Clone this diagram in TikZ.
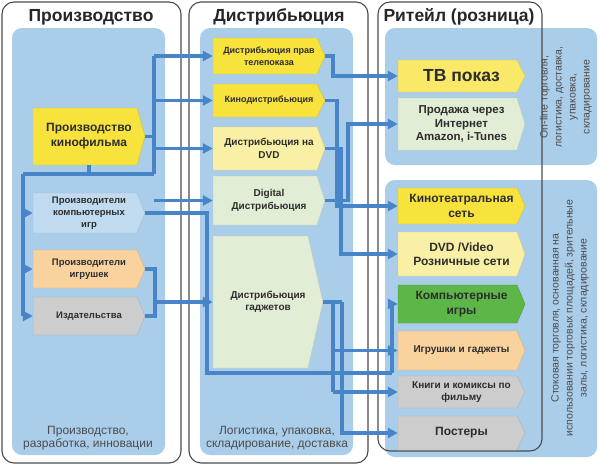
\documentclass[tikz,border=0pt]{standalone}
\usepackage{fontspec}
\setmainfont{Liberation Sans}
\usepackage{xcolor}
\usepackage{tikz}
\usetikzlibrary{arrows.meta}

\definecolor{panelblue}{RGB}{170,205,234}
\definecolor{linkblue}{RGB}{72,132,200}
\definecolor{framegray}{RGB}{75,75,75}
\definecolor{boxtext}{RGB}{45,45,45}
\definecolor{filmyellow}{RGB}{248,226,60}
\definecolor{tvyellow}{RGB}{250,232,105}
\definecolor{paleyellow}{RGB}{250,240,165}
\definecolor{palegreen}{RGB}{226,237,214}
\definecolor{gamegreen}{RGB}{92,183,72}
\definecolor{toyorange}{RGB}{250,210,158}
\definecolor{bookgray}{RGB}{205,205,205}
\definecolor{devblue}{RGB}{192,219,240}

\tikzset{
  boxlabel/.style={inner sep=0pt, align=center, text=boxtext},
  link/.style={draw=linkblue, line width=3.2pt},
  arr/.style={link, -{Triangle[length=10pt,width=10pt]}},
  frame/.style={draw=framegray, line width=1.1pt, rounded corners=12pt},
  panel/.style={fill=panelblue, rounded corners=10pt},
  title/.style={font=\fontsize{17.5}{20}\selectfont\bfseries, text=black!85},
  note/.style={align=center, text=black!70, font=\fontsize{12}{13.5}\selectfont},
  sidenote/.style={align=center, rotate=90, text=black!70, font=\fontsize{10.5}{14}\selectfont}
}

% name, x, y top, width, height, tip, colour, font, text
\newcommand{\pbox}[9]{%
  \filldraw[fill=#7, draw=#7!85!black, line width=0.4pt] (#2,#3) -- ++(#4-#6,0) -- ++(#6,#5/2) -- ++(-#6,#5/2) -- ++(#6-#4,0) -- cycle;
  \node[boxlabel, minimum width=#4, minimum height=#5, font={#8}] (#1) at (#2+#4/2,#3+#5/2) {#9};
}
\newcommand{\bsmall}{\fontsize{9}{11.5}\selectfont\bfseries}
\newcommand{\bprod}{\fontsize{9.5}{12}\selectfont\bfseries}
\newcommand{\bmid}{\fontsize{10}{12.5}\selectfont\bfseries}
\newcommand{\bbig}{\fontsize{12}{14.5}\selectfont\bfseries}

\begin{document}
\begin{tikzpicture}[x=1pt, y=-1pt]
\useasboundingbox (0,0) rectangle (600,466);

% panels
\fill[panel] (12,28) rectangle (165,455);
\fill[panel] (200,28) rectangle (353,455);
\fill[panel] (385,28) rectangle (597,165);
\fill[panel] (385,180) rectangle (597,457);

% frames
\draw[frame] (2,2) rectangle (181,463);
\draw[frame] (189,2) rectangle (368,463);
\draw[frame] (378,2) rectangle (542,451);

\node[title] (t1) at (91,17) {Производство};
\node[title] (t2) at (279,17) {Дистрибьюция};
\node[title] (t3) at (459,17) {Ритейл (розница)};

% production
\pbox{film}{33}{108}{112}{57}{8}{filmyellow}{\fontsize{12}{15}\selectfont\bfseries}{Производство\\кинофильма}
\pbox{prodgames}{33}{193}{112}{40}{8}{devblue}{\bprod}{Производители\\компьютерных\\игр}
\pbox{prodtoys}{33}{250}{112}{38}{8}{toyorange}{\bprod}{Производители\\игрушек}
\pbox{publish}{33}{297}{112}{38}{8}{bookgray}{\bprod}{Издательства}

% distribution
\pbox{tvrights}{213}{38}{112}{36}{8}{filmyellow}{\bsmall}{Дистрибьюция прав\\телепоказа}
\pbox{filmdist}{213}{84}{112}{33}{8}{filmyellow}{\bsmall}{Кинодистрибьюция}
\pbox{dvddist}{213}{127}{112}{43}{8}{paleyellow}{\bmid}{Дистрибьюция на\\DVD}
\pbox{digital}{213}{176}{112}{49}{8}{palegreen}{\bmid}{Digital\\Дистрибьюция}
\pbox{gadgets}{213}{236}{110}{132}{15}{palegreen}{\bmid}{Дистрибьюция\\гаджетов}

% retail
\pbox{tv}{398}{60}{127}{32}{8}{tvyellow}{\fontsize{17.5}{20}\selectfont\bfseries}{ТВ показ}
\pbox{online}{398}{98}{127}{52}{8}{palegreen}{\fontsize{11.5}{13.5}\selectfont\bfseries}{Продажа через\\Интернет\\Amazon, i-Tunes}
\pbox{cinema}{398}{188}{127}{36}{8}{filmyellow}{\bbig}{Кинотеатральная\\сеть}
\pbox{dvdretail}{398}{232}{127}{44}{8}{paleyellow}{\bbig}{DVD /Video\\Розничные сети}
\pbox{games}{398}{285}{127}{38}{8}{gamegreen}{\bbig}{Компьютерные\\игры}
\pbox{toys}{398}{331}{127}{39}{8}{toyorange}{\bmid}{Игрушки и гаджеты}
\pbox{books}{398}{376}{127}{32}{8}{bookgray}{\bmid}{Книги и комиксы по\\фильму}
\pbox{posters}{398}{416}{127}{34}{8}{bookgray}{\bbig}{Постеры}

\node[note] (n1) at (88,438) {Производство,\\разработка, инновации};
\node[note] (n2) at (277,438) {Логистика, упаковка,\\складирование, доставка};
\node[sidenote] (n3) at (566,97) {On-line торговля,\\логистика, доставка,\\упаковка,\\складирование};
\node[sidenote] (n4) at (570,318) {Стоковая торговля, основанная на\\использовании торговых площадей, зрительные\\залы, логистика, складирование};

% bus lines
\coordinate (busL) at (23,174);
\coordinate (busR) at (154,174);
\coordinate (bracket) at (155,0);
\coordinate (gdrop) at (207,373);
\coordinate (gbus) at (392,373);
\coordinate (c1) at (333,0);
\coordinate (c2) at (337,0);
\coordinate (c3) at (341,0);
\coordinate (c4) at (348,0);
\coordinate (c5) at (333,0);
\coordinate (c6) at (342,0);

\draw[link] (film.east) -- (busR |- film.east);
\draw[link] (busR |- tvrights.west) -- (busR);
\draw[link] (film.south) -- (film.south |- busL);
\draw[link] (busL) -- (busR);
\draw[link] (busL) -- (busL |- publish.west);
\draw[arr] (busR |- tvrights.west) -- (tvrights.west);
\draw[arr] (busR |- filmdist.west) -- (filmdist.west);
\draw[arr] (busR |- dvddist.west) -- (dvddist.west);
\draw[arr] (busR |- digital.west) -- (digital.west);
\draw[arr] (busL |- prodgames.west) -- (prodgames.west);
\draw[arr] (busL |- prodtoys.west) -- (prodtoys.west);
\draw[arr] (busL |- publish.west) -- (publish.west);

\draw[link] (prodtoys.east) -| (bracket |- publish.east) -- (publish.east);
\draw[arr] (bracket |- gadgets.west) -- (gadgets.west);
\draw[link] (prodgames.east) -| (gdrop) -- (gbus);
\draw[arr] (gbus) |- (games.west);

\draw[arr] (tvrights.east) -| (c1 |- tv.west) -- (tv.west);
\draw[arr] (filmdist.east) -| (c2 |- cinema.west) -- (cinema.west);
\draw[arr] (dvddist.east) -| (c3 |- dvdretail.west) -- (dvdretail.west);
\draw[arr] (digital.east) -| (c4 |- online.west) -- (online.west);
\draw[link] (gadgets.east) -- (c6 |- gadgets.east);
\draw[link] (c5 |- gadgets.east) -- (c5 |- books.west);
\draw[arr] (c5 |- toys.west) -- (toys.west);
\draw[arr] (c5 |- books.west) -- (books.west);
\draw[arr] (c6 |- gadgets.east) -- (c6 |- posters.west) -- (posters.west);
\end{tikzpicture}
\end{document}
